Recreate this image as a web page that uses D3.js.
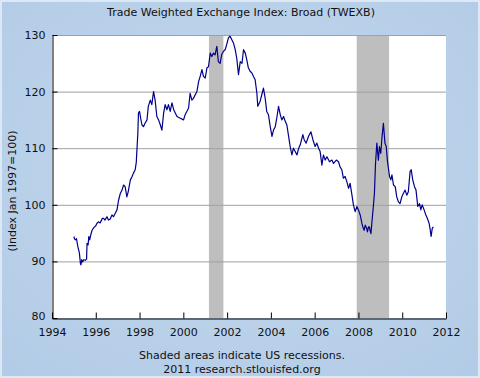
<!DOCTYPE html>
<html><head><meta charset="utf-8">
<script src="https://cdn.jsdelivr.net/npm/d3@7"></script>
<style>html,body{margin:0;padding:0;background:#fff}svg{display:block}text{font-family:"DejaVu Sans",Verdana,sans-serif}</style>
</head><body>
<script>
const years = [
1995.00,1995.03,1995.07,1995.12,1995.18,1995.25,1995.30,1995.32,1995.36,1995.40,1995.45,1995.52,1995.58,1995.60,1995.65,1995.68,1995.72,1995.78,1995.83,1995.92,
1996.00,1996.05,1996.12,1996.20,1996.30,1996.36,1996.42,1996.51,1996.58,1996.66,1996.74,1996.81,1996.89,1996.97,
1997.04,1997.12,1997.20,1997.27,1997.34,1997.42,1997.48,1997.58,1997.66,1997.72,1997.80,1997.85,1997.88,1997.92,1997.95,
1998.00,1998.05,1998.11,1998.18,1998.25,1998.34,1998.40,1998.49,1998.56,1998.64,1998.71,1998.79,1998.87,1998.95,
1999.02,1999.10,1999.17,1999.25,1999.32,1999.40,1999.48,1999.56,1999.71,1999.86,
2000.01,2000.08,2000.16,2000.24,2000.31,2000.39,2000.46,2000.62,2000.70,2000.77,2000.85,2000.92,
2001.00,2001.08,2001.15,2001.23,2001.30,2001.38,2001.45,2001.53,2001.60,2001.68,2001.75,2001.83,2001.91,2001.98,
2002.06,2002.13,2002.21,2002.29,2002.37,2002.44,2002.52,2002.60,2002.68,2002.75,2002.83,2002.90,2002.97,
2003.05,2003.13,2003.20,2003.28,2003.36,2003.40,2003.51,2003.58,2003.66,2003.74,2003.81,2003.89,2003.97,
2004.05,2004.12,2004.20,2004.28,2004.35,2004.43,2004.50,2004.58,2004.66,2004.73,2004.81,2004.88,2004.96,
2005.03,2005.11,2005.19,2005.27,2005.34,2005.46,2005.52,2005.61,2005.72,2005.83,2005.92,
2006.02,2006.10,2006.18,2006.25,2006.33,2006.40,2006.48,2006.56,2006.68,2006.79,2006.86,2006.99,
2007.09,2007.16,2007.24,2007.31,2007.39,2007.47,2007.55,2007.62,2007.70,2007.77,2007.85,2007.93,
2008.00,2008.08,2008.16,2008.20,2008.26,2008.31,2008.38,2008.41,2008.46,2008.50,2008.53,2008.57,2008.61,2008.68,2008.73,2008.78,2008.84,2008.91,2008.96,
2009.02,2009.08,2009.14,2009.21,2009.27,2009.32,2009.42,2009.48,2009.53,2009.60,2009.68,2009.75,2009.83,2009.90,2009.98,
2010.05,2010.13,2010.21,2010.28,2010.36,2010.41,2010.48,2010.56,2010.63,2010.71,2010.79,2010.85,2010.91,
2011.00,2011.08,2011.15,2011.23,2011.27,2011.32,2011.37,2011.42];
const index = [
94.4,94.0,93.8,94.0,92.6,91.5,89.6,89.4,90.3,89.9,90.3,90.2,90.4,93.2,92.9,94.4,93.8,94.8,95.5,96.0,
96.3,96.7,97.0,96.8,97.6,97.6,97.3,97.9,97.3,97.5,98.2,97.9,98.5,99.1,
100.8,102.0,102.6,103.5,103.2,101.4,102.3,104.4,105.0,105.6,106.2,107.5,109.7,112.5,116.2,
116.5,115.3,114.1,113.8,114.4,115.0,117.4,118.5,117.7,120.0,118.5,115.6,115.0,114.1,
113.2,116.2,117.7,116.8,117.7,116.5,118.0,116.8,115.6,115.3,
115.0,115.9,116.5,117.1,119.7,118.5,118.8,120.0,121.8,122.7,123.9,122.7,
122.4,124.2,124.4,126.8,126.2,126.8,126.5,128.0,125.3,125.0,126.5,127.1,127.4,128.3,
129.5,129.8,129.2,128.6,127.4,125.9,123.0,125.3,125.0,127.4,126.8,125.6,124.2,
123.6,123.3,122.7,122.1,119.7,117.4,118.3,119.4,120.6,118.8,116.5,115.9,113.8,
112.1,113.2,113.8,115.6,117.4,115.9,115.0,115.6,114.7,114.1,112.1,110.3,108.8,
110.0,109.4,108.8,110.0,110.6,112.4,111.5,110.9,112.1,112.9,111.5,
110.3,110.9,110.0,109.4,107.0,108.8,107.9,108.5,107.6,107.9,107.3,107.9,
107.6,106.7,106.2,104.7,105.0,104.1,102.9,103.8,101.8,100.0,98.8,99.7,
99.1,98.2,96.7,96.1,95.5,96.4,95.8,95.2,96.1,96.1,95.5,94.9,96.7,99.7,102.0,107.3,110.9,107.9,110.3,
109.1,112.1,114.4,110.9,110.3,107.9,105.0,104.4,105.3,103.5,103.2,101.4,100.5,100.2,101.4,
102.0,102.6,101.7,102.3,105.9,106.2,104.4,103.2,102.6,99.7,100.2,99.1,100.0,
99.1,98.2,97.6,96.7,95.8,94.4,95.8,96.1];
const recessionStart = [2001.17, 2007.92];
const recessionEnd = [2001.83, 2009.40];
const xTicks = [1994,1996,1998,2000,2002,2004,2006,2008,2010,2012];
const yTicks = [80,90,100,110,120,130];
const title = "Trade Weighted Exchange Index: Broad (TWEXB)";
const yLabel = "(Index Jan 1997=100)";
const footer = ["Shaded areas indicate US recessions.", "2011 research.stlouisfed.org"];

const W = 480, H = 378;
const m = {l: 52, r: 446, t: 35, b: 318};
const svg = d3.select("body").append("svg").attr("width", W).attr("height", H);
const defs = svg.append("defs");
const g1 = defs.append("radialGradient").attr("id","bg").attr("cx","50%").attr("cy","45%").attr("r","75%");
g1.append("stop").attr("offset","0%").attr("stop-color","#c4d8ee");
g1.append("stop").attr("offset","100%").attr("stop-color","#b2cbe6");
svg.append("rect").attr("x",0).attr("y",0).attr("width",W).attr("height",H).attr("fill","#dce8f4");
svg.append("rect").attr("x",2).attr("y",2).attr("width",W-4).attr("height",H-4).attr("fill","url(#bg)");

const x = d3.scaleLinear().domain([1994, 2012]).range([m.l, m.r]);
const y = d3.scaleLinear().domain([80, 130]).range([m.b, m.t]);

svg.append("rect").attr("x", m.l).attr("y", m.t).attr("width", m.r - m.l).attr("height", m.b - m.t).attr("fill", "#fff");

// recessions
svg.selectAll(".rec").data(recessionStart).enter().append("rect")
  .attr("x", d => x(d)).attr("y", m.t)
  .attr("width", (d, i) => x(recessionEnd[i]) - x(d)).attr("height", m.b - m.t)
  .attr("fill", "#bebebe");

// grid
svg.selectAll(".grid").data(yTicks.filter(v => v > 80)).enter().append("line")
  .attr("x1", m.l).attr("x2", m.r).attr("y1", d => y(d) + 0.5).attr("y2", d => y(d) + 0.5)
  .attr("stroke", "#a0a0a0").attr("stroke-width", 1);

// line
const pts = years.map((d, i) => [d, index[i]]);
svg.append("path").datum(pts)
  .attr("d", d3.line().x(d => x(d[0])).y(d => y(d[1])))
  .attr("fill", "none").attr("stroke", "#00008b").attr("stroke-width", 1.2).attr("stroke-linejoin", "round");

// axes
const xAxis = d3.axisBottom(x).tickValues(xTicks).tickFormat(d3.format("d")).tickSizeInner(-6).tickSizeOuter(0).tickPadding(10);
const gx = svg.append("g").attr("transform", `translate(0,${m.b + 0.5})`).call(xAxis);
gx.select(".domain").attr("stroke", "#000");
gx.selectAll(".tick line").attr("stroke", "#000");
gx.selectAll("text").attr("font-size", 11).attr("fill", "#111").attr("dy", "0.71em");

const yAxis = d3.axisLeft(y).tickValues(yTicks).tickSizeInner(-5).tickSizeOuter(0).tickPadding(7);
const gy = svg.append("g").attr("transform", `translate(${m.l + 0.5},0)`).call(yAxis);
gy.select(".domain").attr("stroke", "#000");
gy.selectAll(".tick line").attr("stroke", "#000");
gy.selectAll("text").attr("font-size", 11).attr("fill", "#111");
// nudge 80 label up a bit like reference
gy.selectAll(".tick").filter(d => d === 80).select("text").attr("dy", "0.15em");

svg.append("text").attr("x", 241).attr("y", 16).attr("text-anchor", "middle")
  .attr("font-size", 11).attr("fill", "#111").text(title);
svg.append("text").attr("transform", "translate(16,191) rotate(-90)").attr("text-anchor", "middle")
  .attr("font-size", 11).attr("fill", "#111").text(yLabel);
svg.selectAll(".foot").data(footer).enter().append("text")
  .attr("x", 242).attr("y", (d, i) => 359 + i * 13.5).attr("text-anchor", "middle")
  .attr("font-size", 11).attr("fill", "#111").text(d => d);
</script>
</body></html>
